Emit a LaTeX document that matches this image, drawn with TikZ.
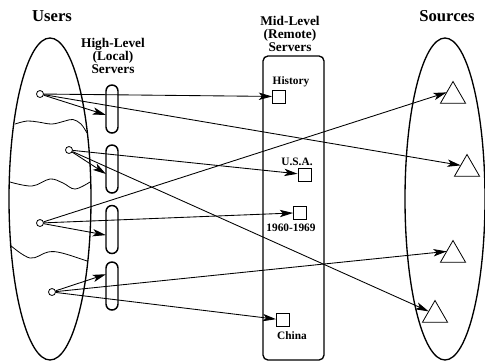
\documentclass[tikz,border=0pt]{standalone}
\usepackage{fontspec}
\setmainfont{Liberation Serif}
\usetikzlibrary{shapes.geometric,arrows.meta}
\begin{document}
\begin{tikzpicture}[x=0.75pt,y=-0.75pt,
  grp/.style={draw,ellipse,line width=1pt,minimum height=241.5pt,inner sep=0pt,outer sep=0pt},
  user/.style={draw,circle,line width=0.6pt,minimum size=5.25pt,inner sep=0pt},
  local/.style={draw,rectangle,rounded corners=4.5pt,line width=1.1pt,minimum width=9pt,minimum height=36pt,inner sep=0pt,outer sep=0pt},
  doc/.style={draw,rectangle,line width=0.6pt,minimum size=9.75pt,inner sep=0pt},
  src/.style={draw,regular polygon,regular polygon sides=3,line width=0.6pt,minimum size=21.75pt,inner sep=0pt,outer sep=0pt},
  conn/.style={line width=0.65pt,-{Stealth[length=10pt,width=5.5pt,inset=2.5pt]}},
  wave/.style={line width=0.6pt},
  title/.style={font=\fontsize{12.5}{14}\selectfont\bfseries,inner sep=0pt},
  head/.style={font=\fontsize{10}{10}\selectfont\bfseries,align=center,inner sep=0pt},
  lab/.style={font=\fontsize{8.5}{10}\selectfont\bfseries,inner sep=0pt}
]
\useasboundingbox (0,0) rectangle (485,362);

% groups
\node[grp,minimum width=61.5pt] (users) at (50,199) {};
\node[grp,minimum width=60pt] (sources) at (445,199) {};
\node[draw,rectangle,rounded corners=3.75pt,line width=1pt,minimum width=45.75pt,minimum height=228pt,inner sep=0pt] (mid) at (293.5,208) {};

% titles
\node[title] (tusers) at (52,16) {Users};
\node[title] (tsources) at (447,16) {Sources};
\node[head] (thigh) at (113,56) {High-Level\\(Local)\\Servers};
\node[head] (tmid) at (290,34) {Mid-Level\\(Remote)\\Servers};

% waves
\draw[wave] plot[smooth,tension=0.6] coordinates {(15,124) (27,121) (38,122) (52,124) (65,121) (73,119.5) (81,124) (87,133)};
\draw[wave] plot[smooth,tension=0.6] coordinates {(10,182) (32,186) (50,179) (63,183) (75,189) (90,182)};
\draw[wave] plot[smooth,tension=0.6] coordinates {(10,245) (30,258) (48,252) (62,253) (87,261)};

% users
\node[user] (u1) at (40,94) {};
\node[user] (u2) at (69,150) {};
\node[user] (u3) at (40,223) {};
\node[user] (u4) at (52,292) {};

% local servers
\node[local] (c1) at (112,109) {};
\node[local] (c2) at (112,169) {};
\node[local] (c3) at (112,229.5) {};
\node[local] (c4) at (112,286) {};

% remote servers
\node[doc] (hist) at (279,96.5) {};
\node[doc] (usa) at (304.5,174.5) {};
\node[doc] (dec) at (300,212.7) {};
\node[doc] (china) at (283,320) {};
\node[lab] (lhist) at (291,82) {History};
\node[lab] (lusa) at (297,161.5) {U.S.A.};
\node[lab] (ldec) at (291,228) {1960-1969};
\node[lab] (lchina) at (292,336) {China};

% sources
\node[src] (t1) at (453,96) {};
\node[src] (t2) at (467,169) {};
\node[src] (t3) at (453,255) {};
\node[src] (t4) at (435,315) {};

% connectors
\draw[conn] (u1) -- (hist);
\draw[conn] (u1) -- (c1.-135);
\draw[conn] (u1) -- (t2.side 1);
\draw[conn] (u2) -- (c2.-140);
\draw[conn] (u2) -- (usa);
\draw[conn] (u2) -- (t4.side 1);
\draw[conn] (u3) -- (c3.-137);
\draw[conn] (u3) -- (dec);
\draw[conn] (u3) -- (t1.side 1);
\draw[conn] (u4) -- (c4.117);
\draw[conn] (u4) -- (china);
\draw[conn] (u4) -- (t3.side 1);
\end{tikzpicture}
\end{document}
